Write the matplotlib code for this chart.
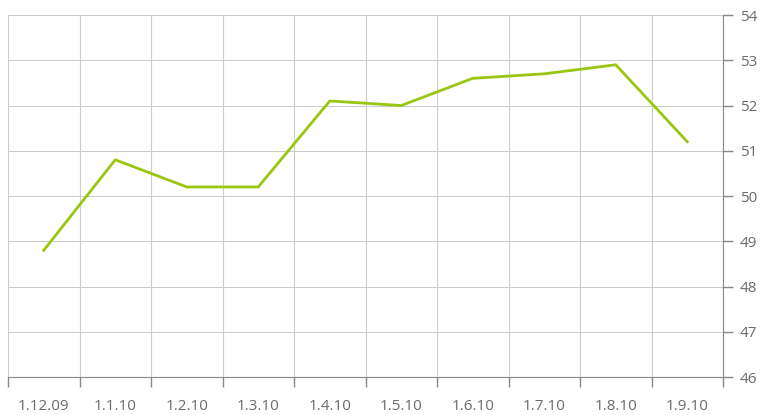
import numpy as np
import matplotlib.pyplot as plt

plt.rcParams['font.family'] = ['Open Sans', 'DejaVu Sans']

# data
dates = ['1.12.09', '1.1.10', '1.2.10', '1.3.10', '1.4.10',
         '1.5.10', '1.6.10', '1.7.10', '1.8.10', '1.9.10']
values = [48.8, 50.8, 50.2, 50.2, 52.1, 52.0, 52.6, 52.7, 52.9, 51.2]

fig = plt.figure(figsize=(7.72, 4.15), dpi=100)
ax = fig.add_axes([8 / 772, 38 / 415, 715 / 772, 362 / 415])

x = np.arange(len(dates))
ax.plot(x, values, color='#99c710', linewidth=2, zorder=3)

ax.set_xlim(-0.5, len(dates) - 0.5)
ax.set_ylim(46, 54)

# category labels at centers, grid/ticks at band edges
ax.set_xticks(x)
ax.set_xticklabels(dates)
ax.set_xticks(np.arange(len(dates) + 1) - 0.5, minor=True)
ax.tick_params(axis='x', which='major', length=0, pad=16,
               labelsize=11, labelcolor='#6b6b6b')
ax.tick_params(axis='x', which='minor', length=7, color='#888888', width=1)
ax.grid(True, axis='x', which='minor', color='#cccccc', linewidth=0.8)

ax.yaxis.tick_right()
ax.set_yticks(np.arange(46, 55, 1))
ax.tick_params(axis='y', length=7, color='#888888', width=1, pad=5,
               labelsize=11, labelcolor='#6b6b6b')
ax.grid(True, axis='y', color='#cccccc', linewidth=0.8)

for side in ['top', 'left']:
    ax.spines[side].set_visible(False)
ax.spines['bottom'].set_color('#888888')
ax.spines['right'].set_color('#888888')
ax.set_axisbelow(True)

fig.savefig('out.png', dpi=100)
